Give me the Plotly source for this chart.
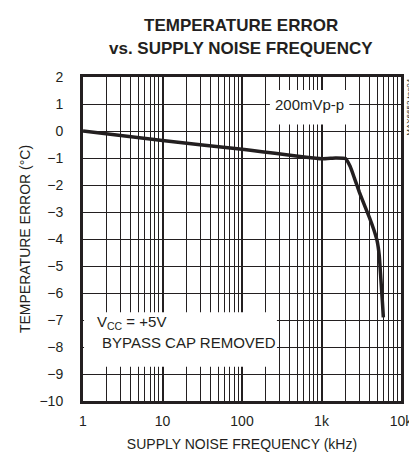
import plotly.graph_objects as go

freq_khz = [1, 10, 100, 1000, 1500, 2000, 2290, 2620, 3000, 3500, 4000, 4520, 5000, 5330, 5580, 5840, 6000]
temp_err = [0, -0.35, -0.68, -1.03, -1.0, -1.02, -1.31, -1.78, -2.27, -2.77, -3.2, -3.63, -4.06, -4.62, -5.48, -6.35, -6.9]

y_ticks = list(range(-10, 3))
x_tickvals = [1, 10, 100, 1000, 10000]
x_ticktext = ["1", "10", "100", "1k", "10k"]
x_minor = [m * d for d in [1, 10, 100, 1000] for m in range(2, 10)]

BODY = "Liberation Sans, Arial, sans-serif"
INK = "#231f20"
M_T, M_B = 69, 60

fig = go.Figure()
fig.add_trace(go.Scatter(x=freq_khz, y=temp_err, mode="lines",
                         line=dict(color=INK, width=3.5, shape="spline", smoothing=0.4),
                         showlegend=False, hoverinfo="skip"))

fig.update_layout(
    width=417, height=455,
    margin=dict(l=75, r=14, t=M_T, b=M_B),
    paper_bgcolor="white", plot_bgcolor="white",
    font=dict(family=BODY, color=INK, size=14),
    xaxis=dict(type="log", range=[0, 4], tickvals=x_tickvals, ticktext=x_ticktext,
               showgrid=True, gridcolor=INK, gridwidth=2,
               minor=dict(tickvals=x_minor, showgrid=True, gridcolor=INK, gridwidth=1, ticks=""),
               showline=True, linecolor=INK, linewidth=3, mirror=True,
               ticks="", ticklabelstandoff=5, zeroline=False,
               title=dict(text="SUPPLY NOISE FREQUENCY (kHz)", font=dict(size=14), standoff=12)),
    yaxis=dict(range=[-10, 2], tickvals=y_ticks, showgrid=True, gridcolor=INK, gridwidth=1,
               showline=True, linecolor=INK, linewidth=3, mirror=True,
               ticks="", ticklabelstandoff=14, zeroline=False,
               title=dict(text="TEMPERATURE ERROR (°C)", font=dict(size=14), standoff=6)),
)

plot_h = 455 - M_T - M_B

# title lines
fig.add_annotation(x=0.497, y=(455 - M_B - 17.5) / plot_h, xref="paper", yref="paper",
                   text="<b>TEMPERATURE ERROR</b>",
                   showarrow=False, xanchor="center", yanchor="middle",
                   font=dict(family=BODY, size=17, color=INK))
fig.add_annotation(x=0.497, y=(455 - M_B - 40) / plot_h, xref="paper", yref="paper",
                   text="<b>vs. SUPPLY NOISE FREQUENCY</b>",
                   showarrow=False, xanchor="center", yanchor="middle",
                   font=dict(family=BODY, size=17, color=INK))

# white label boxes (interrupt grid behind labels)
fig.add_shape(type="rect", xref="x", yref="y", x0=1.03, x1=275, y0=-8.73, y1=-6.71,
              fillcolor="white", line=dict(width=0), layer="above")
fig.add_shape(type="rect", xref="x", yref="y", x0=224, x1=2240, y0=0.24, y1=1.52,
              fillcolor="white", line=dict(width=0), layer="above")

fig.add_annotation(x=2.85, y=1, xref="x", yref="y", text="200mVp-p",
                   showarrow=False, xanchor="center", yanchor="middle", font=dict(size=15))
fig.add_annotation(x=0.15, y=-7.1, xref="x", yref="y", text="V<sub>CC</sub> = +5V",
                   showarrow=False, xanchor="left", yanchor="middle", font=dict(size=15))
fig.add_annotation(x=0.22, y=-7.85, xref="x", yref="y", text="BYPASS CAP REMOVED",
                   showarrow=False, xanchor="left", yanchor="middle", font=dict(size=15))
fig.add_annotation(x=(411.5 - 75) / 328, y=1.0, xref="paper", yref="paper",
                   text="MAX6652 toc04", showarrow=False, textangle=-90,
                   xanchor="center", yanchor="top", font=dict(size=8))

fig.write_html("out.html")
